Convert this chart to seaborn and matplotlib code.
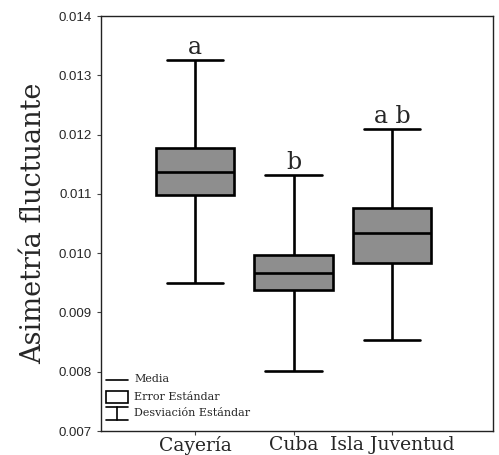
import numpy as np
import pandas as pd
import matplotlib
matplotlib.use("Agg")
import matplotlib.pyplot as plt
import seaborn as sns
from matplotlib.patches import Rectangle
from matplotlib.lines import Line2D

categories = ["Cayería", "Cuba", "Isla Juventud"]
means = [0.01137, 0.00966, 0.01034]
se_low = [0.01098, 0.00938, 0.00983]
se_high = [0.01177, 0.00997, 0.01077]
sd_low = [0.00950, 0.00801, 0.00854]
sd_high = [0.01325, 0.01131, 0.01209]
letters = ["a", "b", "ab"]
yticks = [0.007, 0.008, 0.009, 0.010, 0.011, 0.012, 0.013, 0.014]

# five-number data per group so that min/Q1/median/Q3/max = sd_low/se_low/mean/se_high/sd_high
rows = []
for i, c in enumerate(categories):
    for v in (sd_low[i], se_low[i], means[i], se_high[i], sd_high[i]):
        rows.append({"grupo": c, "valor": v})
df = pd.DataFrame(rows)

sns.set_theme(style="ticks")
serif = ["DejaVu Serif"]
sans = ["Liberation Sans", "DejaVu Sans"]

fig = plt.figure(figsize=(4.99, 4.55), dpi=100)
ax = fig.add_axes([0.2024, 0.0527, 0.7856, 0.9121])

lw = 1.9
sns.boxplot(data=df, x="grupo", y="valor", order=categories, whis=(0, 100),
            width=0.8, color="#8e8e8e", saturation=1, ax=ax,
            boxprops=dict(facecolor="#8e8e8e", edgecolor="black", linewidth=lw),
            medianprops=dict(color="black", linewidth=lw),
            whiskerprops=dict(color="black", linewidth=lw),
            capprops=dict(color="black", linewidth=lw),
            showfliers=False)
# widen caps
for line in ax.lines:
    xd = line.get_xdata()
    yd = line.get_ydata()
    if len(xd) == 2 and yd[0] == yd[1] and xd[0] != xd[1]:
        cx = (xd[0] + xd[1]) / 2
        w = abs(xd[1] - xd[0])
        if w < 0.79:
            line.set_xdata([cx - 0.285, cx + 0.285])

ax.set_xlim(-0.955, 3.025)
ax.set_ylim(0.007, 0.014)
ax.set_yticks(yticks)
ax.set_yticklabels([f"{t:.3f}" for t in yticks], fontfamily=sans, fontsize=9.5)
ax.set_xticks(range(len(categories)))
ax.set_xticklabels(categories, fontfamily=serif, fontsize=13.5)
ax.tick_params(axis="both", direction="out", length=3, width=0.8, color="#444444")
ax.tick_params(axis="x", pad=0.5)
ax.set_xlabel("")
ax.set_ylabel("Asimetría fluctuante", fontfamily=serif, fontsize=19.5, labelpad=8)
for s in ax.spines.values():
    s.set_visible(True)
    s.set_linewidth(1.0)
    s.set_color("#222222")

for i, t in enumerate(letters):
    txt = t if t != "ab" else "a b"
    ax.text(i, sd_high[i] + 0.00002, txt, ha="center", va="bottom",
            fontfamily=serif, fontsize=17)

# legend drawn in axes fraction coordinates
tr = ax.transAxes
x0, x1 = 0.013, 0.069
ax.add_line(Line2D([x0, x1], [0.123, 0.123], color="black", lw=1.2, transform=tr))
ax.add_patch(Rectangle((x0, 0.068), x1 - x0, 0.029, fill=False, ec="black", lw=1.2, transform=tr))
ax.add_line(Line2D([x0, x1], [0.058, 0.058], color="black", lw=1.2, transform=tr))
ax.add_line(Line2D([(x0 + x1) / 2] * 2, [0.058, 0.026], color="black", lw=1.2, transform=tr))
ax.add_line(Line2D([x0, x1], [0.026, 0.026], color="black", lw=1.2, transform=tr))
fs = 8
ax.text(0.085, 0.125, "Media", transform=tr, fontfamily=serif, fontsize=fs, va="center")
ax.text(0.085, 0.083, "Error Estándar", transform=tr, fontfamily=serif, fontsize=fs, va="center")
ax.text(0.085, 0.043, "Desviación Estándar", transform=tr, fontfamily=serif, fontsize=fs, va="center")

fig.savefig("out.png", dpi=100, facecolor="white")
